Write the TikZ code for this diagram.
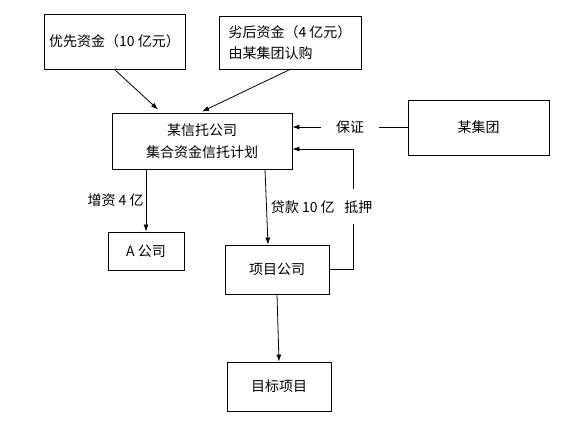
\documentclass[tikz,border=0pt]{standalone}
\usepackage{fontspec}
\setmainfont{Noto Sans CJK SC}
\usetikzlibrary{arrows.meta,positioning}
\tikzset{box/.style={draw,line width=0.9pt,inner sep=0pt,font=\fontsize{14}{21.5}\selectfont},
arr/.style={line width=0.8pt,-{Latex[length=7pt,width=5pt]}},
lbl/.style={font=\fontsize{14}{16}\selectfont}}
\begin{document}
\begin{tikzpicture}[x=1pt,y=-1pt]
\useasboundingbox (0,0) rectangle (575,440);
\node[box,minimum width=141,minimum height=55] (senior) at (114.5,41.5) {优先资金（10 亿元）};
\node[box,minimum width=142,minimum height=53,align=left] (junior) at (290,42.5) {劣后资金（4 亿元）\\由某集团认购};
\node[box,minimum width=180,minimum height=56,align=center] (trust) at (202,141) {某信托公司\\集合资金信托计划};
\node[box,minimum width=141,minimum height=55] (group) at (478.5,127.5) {某集团};
\node[box,minimum width=76,minimum height=38] (acom) at (146,251) {A 公司};
\node[box,minimum width=104,minimum height=49] (proj) at (277,269.5) {项目公司};
\node[box,minimum width=104,minimum height=49] (target) at (279,386.5) {目标项目};
\draw[arr] (senior.south) -- ([xshift=-44pt,yshift=3pt]trust.north);
\draw[arr] (junior.south) -- ([yshift=1pt]trust.north);
\draw[arr] (group.west |- 0,127) -- node[lbl,fill=white,inner xsep=15pt]{保证} (trust.east |- 0,127);
\draw[arr] (proj.east) -| node[lbl,pos=0.76,fill=white,inner ysep=11pt,xshift=5pt]{抵押} ([xshift=61pt,yshift=-8pt]trust.east) -- ([yshift=-8pt]trust.east);
\draw[arr] (acom.north |- trust.south) -- node[lbl,left,inner sep=2pt]{增资 4 亿} (acom.north);
\draw[arr] ([xshift=-12pt]proj.north |- trust.south) -- node[lbl,right,inner sep=4pt]{贷款 10 亿} ([xshift=-9pt]proj.north);
\draw[arr] (proj.south) -- (target.north);
\end{tikzpicture}
\end{document}
